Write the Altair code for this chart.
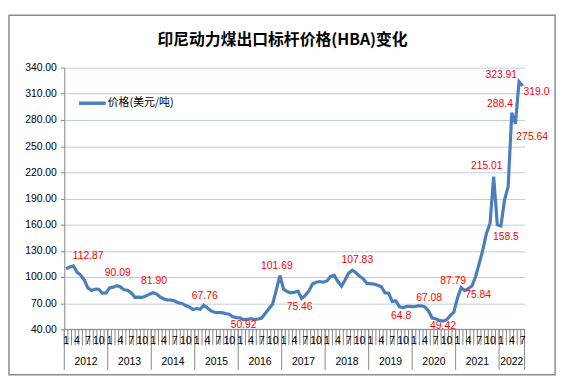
import altair as alt
import pandas as pd

# HBA price, monthly from 2012-01 to 2022-07 (USD/t)
years = list(range(2012, 2023))
prices = [
    109.29, 111.58, 112.87, 105.61, 102.12, 96.65, 87.56, 84.65, 86.21, 86.04, 81.44, 81.75,   # 2012
    87.55, 88.35, 90.09, 88.56, 85.33, 84.87, 81.69, 76.70, 76.89, 76.61, 78.13, 80.31,      # 2013
    81.90, 80.44, 77.01, 74.81, 73.60, 73.64, 72.45, 70.29, 69.69, 67.26, 65.70, 62.65,      # 2014
    63.84, 62.92, 67.76, 64.48, 61.08, 59.59, 59.16, 59.14, 58.21, 57.39, 54.43, 53.51,      # 2015
    53.20, 50.92, 51.62, 52.32, 51.20, 51.87, 53.00, 58.37, 63.93, 69.07, 84.89, 101.69,     # 2016
    86.23, 83.32, 81.90, 82.51, 83.81, 75.46, 78.95, 83.97, 92.03, 93.99, 94.80, 94.04,      # 2017
    95.54, 100.69, 101.86, 94.75, 89.53, 96.61, 104.65, 107.83, 104.81, 100.89, 97.90, 92.51,  # 2018
    92.41, 91.80, 90.57, 88.85, 81.86, 81.48, 71.92, 72.67, 65.79, 64.80, 66.27, 66.30,      # 2019
    65.93, 66.89, 67.08, 65.77, 61.11, 52.98, 52.16, 50.34, 49.42, 51.00, 55.71, 59.65,      # 2020
    75.84, 87.79, 84.47, 86.68, 89.74, 100.33, 115.35, 130.99, 150.03, 161.63, 215.01, 159.79,  # 2021
    158.50, 188.38, 203.69, 288.40, 275.64, 323.91, 319.00,                                  # 2022
]
month_labels = ["1", "4", "7", "10"]
y_ticks = [40, 70, 100, 130, 160, 190, 220, 250, 280, 310, 340]

# annotations: label text and month index
ann_text = ["112.87", "90.09", "81.90", "67.76", "50.92", "101.69", "75.46", "107.83",
            "64.8", "67.08", "49.42", "87.79", "75.84", "215.01", "158.5", "288.4",
            "275.64", "323.91", "319.0"]
ann_idx = [2, 14, 24, 38, 49, 59, 65, 79, 93, 98, 104, 109, 108, 118, 120, 123, 124, 125, 126]
# label placement offsets (pixels)
ann_off = [(15, -10), (1, -13), (1, -12), (1, -9), (0, 5), (-3, -10), (-2, 9), (5, -10),
           (-2, 8), (8, -8), (0, 5), (-8, -7), (21, -3), (-7, -11), (5, 11), (-12, -9),
           (17, 13), (-18, -7), (14, 6)]

W, H = 466, 265
N = len(prices)
BLUE = "#4a7ebb"
GREY = "#868686"
FONT = "Liberation Sans"
NARROW = "Liberation Sans Narrow, Liberation Sans"

df = pd.DataFrame({"x": [i + 0.5 for i in range(N)], "price": prices})

xs = alt.Scale(domain=[0, N], nice=False, zero=False)
ys = alt.Scale(domain=[40, 340], nice=False, zero=False)
yaxis = alt.Axis(
    values=y_ticks, format=".2f", title=None, labelFont=FONT, labelFontSize=10.5,
    labelColor="#000000", tickColor=GREY, tickSize=4, labelPadding=4,
    labelOverlap=False, labelBound=False, labelFlush=False,
    domainColor=GREY, gridColor="#b9cde5", gridWidth=1)

line = alt.Chart(df).mark_line(color=BLUE, strokeWidth=3.2).encode(
    x=alt.X("x:Q", scale=xs, axis=None),
    y=alt.Y("price:Q", scale=ys, axis=yaxis),
)

layers = [line]

for t, i, (dx, dy) in zip(ann_text, ann_idx, ann_off):
    d = pd.DataFrame({"x": [i + 0.5], "price": [prices[i]], "t": [t]})
    layers.append(alt.Chart(d).mark_text(
        color="#ff0000", font=FONT, fontSize=10.5, dx=dx, dy=dy, align="center", baseline="middle"
    ).encode(x=alt.X("x:Q", scale=xs, axis=None), y=alt.Y("price:Q", scale=ys, axis=yaxis),
             text="t:N"))

# category tick marks
bounds = pd.DataFrame({"b": list(range(N + 1))})
layers.append(alt.Chart(bounds).mark_rule(color=GREY, strokeWidth=1).encode(
    x=alt.X("b:Q", scale=xs, axis=None), y=alt.value(H), y2=alt.value(H + 16)))
# x axis line
layers.append(alt.Chart(pd.DataFrame({"a": [0]})).mark_rule(color=GREY).encode(
    x=alt.value(0), x2=alt.value(W), y=alt.value(H)))

# year separators
ybounds = pd.DataFrame({"b": [12 * k for k in range(len(years))] + [N]})
layers.append(alt.Chart(ybounds).mark_rule(color=GREY, strokeWidth=1).encode(
    x=alt.X("b:Q", scale=xs, axis=None), y=alt.value(H), y2=alt.value(H + 41)))

# month labels
mrows = []
for i in range(N):
    m = i % 12 + 1
    if str(m) in month_labels:
        mrows.append({"x": i + 0.5, "t": str(m)})
layers.append(alt.Chart(pd.DataFrame(mrows)).mark_text(
    font=NARROW, fontSize=10.5, color="#000000", baseline="middle").encode(
    x=alt.X("x:Q", scale=xs, axis=None), y=alt.value(H + 12), text="t:N"))

# year labels
yrows = []
for k, yr in enumerate(years):
    start = 12 * k
    end = min(12 * (k + 1), N)
    yrows.append({"x": (start + end) / 2, "t": str(yr)})
layers.append(alt.Chart(pd.DataFrame(yrows)).mark_text(
    font=FONT, fontSize=10.5, color="#000000", baseline="middle").encode(
    x=alt.X("x:Q", scale=xs, axis=None), y=alt.value(H + 33), text="t:N"))

one = pd.DataFrame({"a": [0]})
# legend
layers.append(alt.Chart(one).mark_rule(color=BLUE, strokeWidth=3.5).encode(
    x=alt.value(15), x2=alt.value(42), y=alt.value(36)))
layers.append(alt.Chart(one).mark_text(
    text="价格(美元/吨)", font="Noto Sans CJK SC", fontSize=11, align="left",
    baseline="middle", color="#000000").encode(x=alt.value(44), y=alt.value(36)))
# title
layers.append(alt.Chart(one).mark_text(
    text="印尼动力煤出口标杆价格(HBA)变化", font="Noto Sans CJK SC", fontSize=16,
    fontWeight="bold", align="center", baseline="middle", color="#000000").encode(
    x=alt.value(221), y=alt.value(-28)))
# outer border
layers.append(alt.Chart(one).mark_rect(fillOpacity=0, stroke="#8c8c8c", strokeWidth=1.5).encode(
    x=alt.value(-56), x2=alt.value(497), y=alt.value(-53), y2=alt.value(311)))

chart = alt.layer(*layers).properties(
    width=W, height=H,
    padding={"left": 57, "top": 58, "right": 38, "bottom": 58},
    autosize=alt.AutoSizeParams(type="none"),
    background="#ffffff",
).configure_view(stroke=None)

chart.save("out.html", embed_options={"renderer": "svg", "actions": False})
